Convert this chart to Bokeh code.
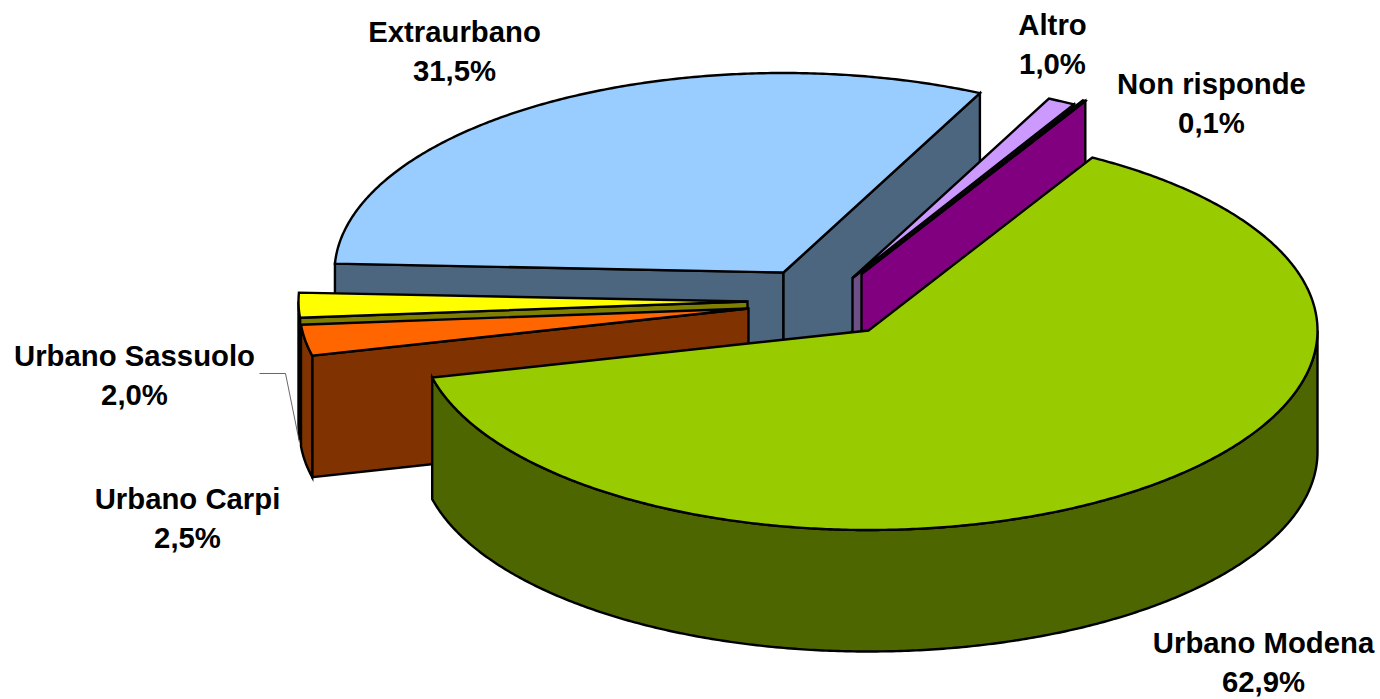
import numpy as np
from bokeh.plotting import figure
from bokeh.models import Range1d
from bokeh.core.properties import value
from bokeh.embed import file_html
from bokeh.resources import INLINE

categories = ["Urbano Modena", "Urbano Carpi", "Urbano Sassuolo", "Extraurbano", "Altro", "Non risponde"]
shares = [62.9, 2.5, 2.0, 31.5, 1.0, 0.1]

top_colors = ["#99CC00", "#FF6600", "#FFFF00", "#99CCFF", "#CC99FF", "#800080"]
wall_colors = ["#4D6600", "#803300", "#808000", "#4D6680", "#6E5088", "#800080"]

# 3-D pie layout (pixels of the page)
centres = [(868, 330), (748, 308), (747, 301), (783, 272), (852, 277.5), (861, 273.5)]
RX, RY, DEPTH = 449, 199.5, 121.5
START = 60.1
paint_order = [3, 4, 5, 2, 1, 0]

label_pos = [(1263, 642), (187, 498), (134, 355), (454, 31), (1052, 24), (1211, 83)]
LINE_GAP = 39
FONT = "Liberation Sans"
FONT_SIZE = "29.3px"


def pt(c, a, dz=0.0):
    r = np.radians(a)
    return c[0] + RX * np.cos(r), c[1] - RY * np.sin(r) + dz


def arc(c, a0, a1, dz=0.0):
    n = max(2, int(abs(a0 - a1) * 2) + 2)
    t = np.linspace(a0, a1, n)
    r = np.radians(t)
    return list(c[0] + RX * np.cos(r)), list(c[1] - RY * np.sin(r) + dz)


xs, ys, fills = [], [], []


def add(x, y, col):
    xs.append(list(x))
    ys.append(list(y))
    fills.append(col)


def radial_wall(c, a, col):
    x, y = pt(c, a)
    add([c[0], x, x, c[0]], [c[1], y, y + DEPTH, c[1] + DEPTH], col)


sweep = [s / sum(shares) * 360 for s in shares]
edges = START - np.concatenate([[0], np.cumsum(sweep)])

for i in paint_order:
    c = centres[i]
    a0, a1 = edges[i], edges[i + 1]
    if np.cos(np.radians(a0)) < 0:
        radial_wall(c, a0, wall_colors[i])
    if np.cos(np.radians(a1)) > 0:
        radial_wall(c, a1, wall_colors[i])
    hi, lo = min(a0, 0), max(a1, -180)
    if hi > lo:
        tx, ty = arc(c, hi, lo)
        bx, by = arc(c, lo, hi, DEPTH)
        add(tx + bx, ty + by, wall_colors[i])
    ax, ay = arc(c, a0, a1)
    add([c[0]] + ax, [c[1]] + ay, top_colors[i])

p = figure(width=1380, height=699, output_backend="svg", toolbar_location=None,
           x_range=Range1d(0, 1380), y_range=Range1d(699, 0), min_border=0,
           outline_line_color=None)
p.axis.visible = False
p.grid.visible = False

p.patches(xs, ys, fill_color=fills, line_color="black", line_width=2.4, line_join="miter")

# leader line of the Urbano Sassuolo label
p.line([259, 285, 299], [373, 373, 442], line_color="#404040", line_width=0.8)

tx, ty, tt = [], [], []
for name, s, (x, y) in zip(categories, shares, label_pos):
    tx += [x, x]
    ty += [y, y + LINE_GAP]
    tt += [name, f"{s:.1f}".replace(".", ",") + "%"]
p.text(tx, ty, text=tt, text_font=value(FONT), text_font_style="bold",
       text_font_size=value(FONT_SIZE), text_align="center", text_baseline="alphabetic",
       text_color="black")

open("out.html", "w").write(file_html(p, INLINE))
